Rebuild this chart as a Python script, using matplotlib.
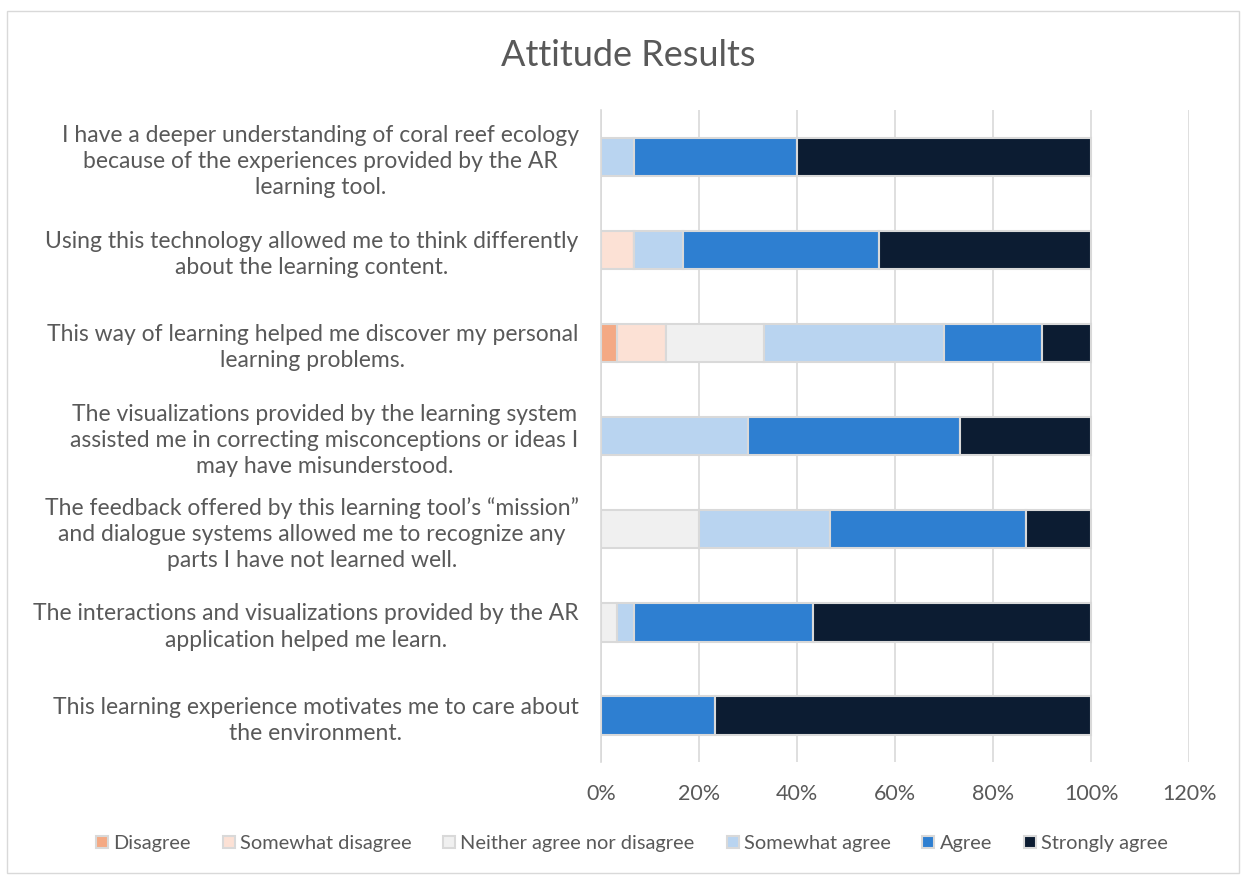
import numpy as np
import matplotlib.pyplot as plt
from matplotlib.ticker import PercentFormatter

plt.rcParams['font.family'] = ['Lato', 'DejaVu Sans']

questions = [
    "I have a deeper understanding of coral reef ecology\nbecause of the experiences provided by the AR\nlearning tool.",
    "Using this technology allowed me to think differently\nabout the learning content.",
    "This way of learning helped me discover my personal\nlearning problems.",
    "The visualizations provided by the learning system\nassisted me in correcting misconceptions or ideas I\nmay have misunderstood.",
    "The feedback offered by this learning tool\u2019s \u201cmission\u201d\nand dialogue systems allowed me to recognize any\nparts I have not learned well.",
    "The interactions and visualizations provided by the AR\napplication helped me learn.",
    "This learning experience motivates me to care about\nthe environment.",
]
levels = ["Disagree", "Somewhat disagree", "Neither agree nor disagree",
          "Somewhat agree", "Agree", "Strongly agree"]

# percentages per question (top to bottom), one list per level
disagree = [0, 0, 3.33, 0, 0, 0, 0]
somewhat_disagree = [0, 6.67, 10.0, 0, 0, 0, 0]
neither = [0, 0, 20.0, 0, 20.0, 3.33, 0]
somewhat_agree = [6.67, 10.0, 36.67, 30.0, 26.67, 3.33, 0]
agree = [33.33, 40.0, 20.0, 43.33, 40.0, 36.67, 23.33]
strongly_agree = [60.0, 43.33, 10.0, 26.67, 13.33, 56.67, 76.67]

colors = ["#F4A984", "#FCE1D5", "#F0F0F0", "#B9D4F0", "#2E7FD1", "#0C1C32"]

series = [disagree, somewhat_disagree, neither, somewhat_agree, agree, strongly_agree]

fig = plt.figure(figsize=(12.44, 8.76), dpi=100)
ax = fig.add_axes([0.483, 0.130, 0.473, 0.744])

y = np.arange(len(questions))
left = np.zeros(len(questions))
for vals, lab, col in zip(series, levels, colors):
    ax.barh(y, vals, left=left, height=0.41, color=col, edgecolor="#D9D9D9",
            linewidth=1.5, label=lab)
    left += np.array(vals)

ax.set_ylim(len(questions) - 0.5, -0.5)
ax.set_xlim(0, 120)
ax.set_xticks(np.arange(0, 121, 20))
ax.xaxis.set_major_formatter(PercentFormatter(decimals=0))
ax.set_yticks(y)
ax.set_yticklabels(questions)
for t in ax.get_yticklabels():
    t.set_multialignment("center")
    t.set_linespacing(1.3)
ax.tick_params(axis="both", length=0, colors="#595959")
ax.tick_params(axis="y", pad=16, labelsize=16.5)
ax.tick_params(axis="x", pad=16, labelsize=15.5)
ax.grid(axis="x", color="#D9D9D9", linewidth=1.2)
ax.set_axisbelow(True)
for s in ["top", "right", "bottom"]:
    ax.spines[s].set_visible(False)
ax.spines["left"].set_color("#D9D9D9")
ax.spines["left"].set_linewidth(1.2)

fig.text(0.505, 0.937, "Attitude Results", ha="center", va="center",
         fontsize=26, color="#595959")

fig.legend(loc="center", bbox_to_anchor=(0.508, 0.037), ncol=6, frameon=False,
           fontsize=14.4, labelcolor="#595959", handlelength=0.6, handleheight=0.6,
           handletextpad=0.25, columnspacing=1.6)

fig.patches.append(plt.Rectangle((0.006, 0.003), 0.99, 0.985, transform=fig.transFigure,
                                 fill=False, edgecolor="#D9D9D9", linewidth=1))

fig.savefig("out.png", dpi=100)
